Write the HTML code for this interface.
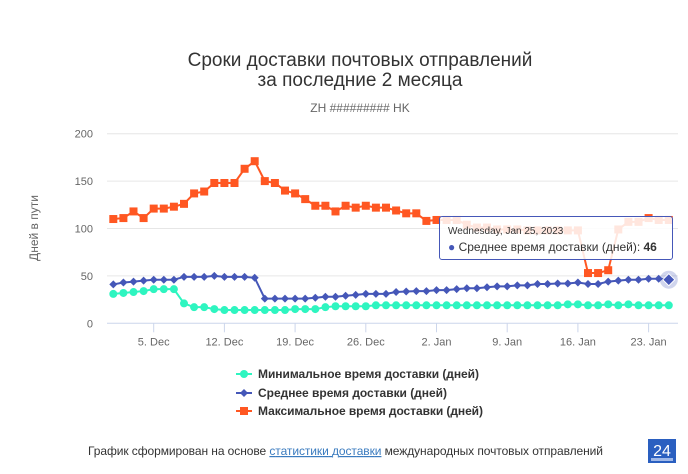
<!DOCTYPE html>
<html><head><meta charset="utf-8"><style>
body{margin:0;background:#fff;font-family:"Liberation Sans","DejaVu Sans",sans-serif;}
#wrap{position:relative;width:688px;height:474px;overflow:hidden;}
</style></head><body>
<div id="wrap">
<svg id="chart" width="688" height="474" xmlns="http://www.w3.org/2000/svg">
<text x="360" y="66" text-anchor="middle" font-size="19" fill="#333">Сроки доставки почтовых отправлений</text>
<text x="360" y="86" text-anchor="middle" font-size="19" fill="#333">за последние 2 месяца</text>
<text x="360" y="112" text-anchor="middle" font-size="12" fill="#666">ZH ######### HK</text>
<text transform="translate(38,228) rotate(-90)" text-anchor="middle" font-size="12" fill="#666">Дней в пути</text>
<g id="grid"></g><g id="xaxis"></g><g id="series"></g>
<g>
<g><line x1="236" y1="374" x2="252" y2="374" stroke="#2ef5c0" stroke-width="2"/><circle cx="244" cy="374" r="4" fill="#2ef5c0"/><text x="258" y="378" font-size="12" font-weight="bold" fill="#333" textLength="221">Минимальное время доставки (дней)</text></g>
<g><line x1="236" y1="393" x2="252" y2="393" stroke="#4557b8" stroke-width="2"/><path d="M244 389 L248 393 L244 397 L240 393Z" fill="#4557b8"/><text x="258" y="397" font-size="12" font-weight="bold" fill="#333" textLength="189">Среднее время доставки (дней)</text></g>
<g><line x1="236" y1="411" x2="252" y2="411" stroke="#ff5722" stroke-width="2"/><rect x="240" y="407" width="8" height="8" fill="#ff5722"/><text x="258" y="415" font-size="12" font-weight="bold" fill="#333" textLength="225">Максимальное время доставки (дней)</text></g>
</g>
<text x="88" y="455" font-size="12" fill="#333" textLength="515">График сформирован на основе <tspan fill="#3a7bbf" text-decoration="underline">статистики доставки</tspan> международных почтовых отправлений</text>
<g><rect x="648" y="439" width="28" height="24" fill="#2a5fc0"/><text x="662" y="456" text-anchor="middle" font-size="16" fill="#fff">24</text><rect x="651" y="458" width="22" height="3" fill="#9fb8e8"/></g>
</svg>
<div style="position:absolute;left:439px;top:216px;width:234px;height:44px;box-sizing:border-box;border:1px solid #4557b8;border-radius:3px;background:rgba(255,255,255,0.85);font-size:12px;color:#333;">
<div style="position:absolute;left:8px;top:9px;font-size:10px;">Wednesday, Jan 25, 2023</div>
<div style="position:absolute;left:8px;top:23px;white-space:nowrap;"><span style="color:#4557b8">●</span> Среднее время доставки (дней): <b>46</b></div>
</div>
</div>
<script>
const startLabelDates=["5. Dec","12. Dec","19. Dec","26. Dec","2. Jan","9. Jan","16. Jan","23. Jan"];
const yTicks=[0,50,100,150,200];
const minVals=[31,32,33,34,36,36,36,21,17,17,15,14,14,14,14,14,14,14,15,15,15,17,18,18,18,18,19,19,19,19,19,19,19,19,19,19,19,19,19,19,19,19,19,19,19,20,20,19,19,20,19,20,19,19,19,19];
const avgVals=[41,43,44,45,46,46,46,49,49,49,50,49,49,49,48,26,26,26,26,26,27,28,28,29,30,31,31,31,33,33.5,34,34,35,35,36,37,37,38,39,39,40,40,41.5,41.5,42,42,43,41.5,41.5,44,45,46,46,47,47,46];
const maxVals=[110,111,118,111,121,121,123,126,137,139,148,148,148,163,171,150,148,140,137,131,124,124,118,124,122,124,122,122,119,116,116,108,109,109,109,104,101,101,99,99,99,98,98,98,98,98,98,53,53,56,99,107,107,111,109,109];
const x0=113.3, dx=10.1, y0=323.3, ky=0.948;
const X=i=>x0+i*dx, Y=v=>y0-v*ky;
const NS="http://www.w3.org/2000/svg";
function mk(tag,attrs,parent){const e=document.createElementNS(NS,tag);for(const k in attrs)e.setAttribute(k,attrs[k]);parent.appendChild(e);return e;}
const grid=document.getElementById('grid');
yTicks.forEach(v=>{
 if(v>0){const l=mk('line',{x1:107,x2:678,y1:Y(v),y2:Y(v),stroke:'#e6e6e6'},grid);
 
 }
 const t=mk('text',{x:93,y:Y(v)+4,'text-anchor':'end','font-size':11,fill:'#666'},grid);t.textContent=v;
 
 
});
const xa=document.getElementById('xaxis');
const ax=mk('line',{x1:107,x2:678,y1:y0,y2:y0,stroke:'#ccd6eb'},xa);


startLabelDates.forEach((d,k)=>{const x=X(4+7*k);
 mk('line',{x1:x,x2:x,y1:y0,y2:y0+9,stroke:'#ccd6eb'},xa);
 const t=mk('text',{x:x,y:y0+22,'text-anchor':'middle','font-size':11,fill:'#666'},xa);t.textContent=d;
 
 
});
const sg=document.getElementById('series');
function series(vals,color,shape,name){
 const g=mk('g',{},sg);
 
 
 mk('polyline',{points:vals.map((v,i)=>X(i)+','+Y(v)).join(' '),fill:'none',stroke:color,'stroke-width':2},g);
 vals.forEach((v,i)=>{const x=X(i),y=Y(v);let e;
  if(shape==='c')e=mk('circle',{cx:x,cy:y,r:4,fill:color},g);
  else if(shape==='d')e=mk('path',{d:`M${x} ${y-4}L${x+4} ${y}L${x} ${y+4}L${x-4} ${y}Z`,fill:color},g);
  else e=mk('rect',{x:x-4,y:y-4,width:8,height:8,fill:color},g);
  
  
 });
}
series(minVals,'#2ef5c0','c','series-min');
series(maxVals,'#ff5722','s','series-max');
series(avgVals,'#4557b8','d','series-avg');
const li=avgVals.length-1;
const h=mk('circle',{cx:X(li),cy:Y(avgVals[li]),r:9,fill:'#4557b8','fill-opacity':0.25},sg);


mk('path',{d:`M${X(li)} ${Y(avgVals[li])-6}L${X(li)+6} ${Y(avgVals[li])}L${X(li)} ${Y(avgVals[li])+6}L${X(li)-6} ${Y(avgVals[li])}Z`,fill:'#4557b8',stroke:'#fff'},sg);
</script>
</body></html>
